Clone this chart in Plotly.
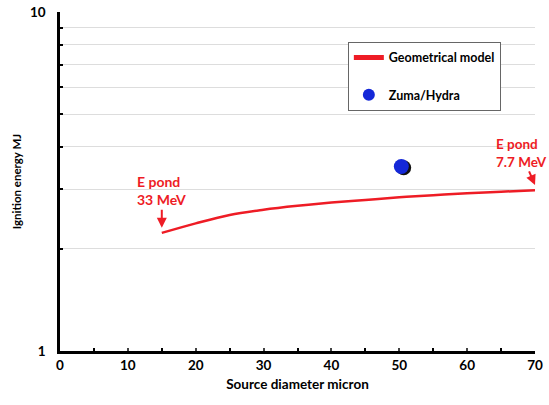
import math
import plotly.graph_objects as go

# Data
diam_model = [15, 20, 25, 30, 35, 40, 45, 50, 55, 60, 65, 70]
energy_model = [2.23, 2.38, 2.52, 2.61, 2.68, 2.74, 2.79, 2.84, 2.88, 2.92, 2.95, 2.98]
diam_sim = [50.3]
energy_sim = [3.5]

x_ticks = [0, 10, 20, 30, 40, 50, 60, 70]
y_ticks = [1, 10]
y_minor = [2, 3, 4, 5, 6, 7, 8, 9]

RED = "#ee1c25"
BLUE = "#1428d8"
FONT = "Lato"

fig = go.Figure()
fig.add_trace(go.Scatter(
    x=diam_model, y=energy_model, mode="lines", name="Geometrical model",
    line=dict(color=RED, width=2.5, shape="spline"), legendgroup="a"))
# shadow of marker
fig.add_trace(go.Scatter(
    x=[v + 0.35 for v in diam_sim], y=[v * 0.992 for v in energy_sim], mode="markers",
    marker=dict(color="#111111", size=15), showlegend=False, hoverinfo="skip"))
fig.add_trace(go.Scatter(
    x=diam_sim, y=energy_sim, mode="markers", name="Zuma/Hydra",
    marker=dict(color=BLUE, size=15), legendgroup="b"))

fig.add_annotation(x=15, y=math.log10(2.31), ax=0, ay=-37, text="<b>E pond<br>33 MeV</b>",
                   showarrow=True, arrowhead=2, arrowsize=1, arrowwidth=2, arrowcolor=RED,
                   font=dict(family=FONT, size=14, color=RED), align="left")
fig.add_annotation(x=70, y=math.log10(3.09), ax=-14, ay=-32, text="<b>E pond<br>7.7 MeV</b>",
                   showarrow=True, arrowhead=2, arrowsize=1, arrowwidth=2, arrowcolor=RED,
                   font=dict(family=FONT, size=13.5, color=RED), align="left")

fig.update_layout(
    width=549, height=405,
    margin=dict(l=60, r=14, t=12, b=54, autoexpand=False),
    paper_bgcolor="white", plot_bgcolor="white",
    font=dict(family=FONT, size=12, color="black"),
    showlegend=True,
    legend=dict(x=0.606, y=0.912, xanchor="left", yanchor="top",
                bordercolor="#666666", borderwidth=1, bgcolor="white",
                font=dict(family=FONT, size=12.5, color="black", weight="bold"),
                tracegroupgap=18, itemwidth=30, itemsizing="constant"),
)
fig.update_xaxes(
    range=[0, 70], tickvals=x_ticks, ticks="inside", ticklen=3, tickwidth=2,
    showline=True, linecolor="black", linewidth=2.5, showgrid=False, zeroline=False,
    tickfont=dict(family=FONT, size=13.5, weight="bold"),
    minor=dict(dtick=5, ticks="inside", ticklen=3, tickwidth=2, tickcolor="black"),
    title=dict(text="Source diameter micron", font=dict(family=FONT, size=13.5, weight="bold"), standoff=8),
)
fig.update_yaxes(
    type="log", range=[0, 1], tickvals=y_ticks, ticktext=["1", "10"], ticks="",
    showline=True, linecolor="black", linewidth=2.5, showgrid=True, gridcolor="#dddddd", gridwidth=1,
    tickfont=dict(family=FONT, size=13.5, weight="bold"), ticklabelstandoff=9,
    ticklabeloverflow="allow",
    minor=dict(tickvals=y_minor, ticks="inside", ticklen=3, tickwidth=2, tickcolor="black",
               showgrid=True, gridcolor="#dddddd", gridwidth=1),
    title=dict(text="Ignition energy MJ", font=dict(family=FONT, size=11.5, weight="bold"), standoff=6),
)

fig.write_html("out.html", config={"displayModeBar": False},
               post_script="document.body.style.margin='0';")
